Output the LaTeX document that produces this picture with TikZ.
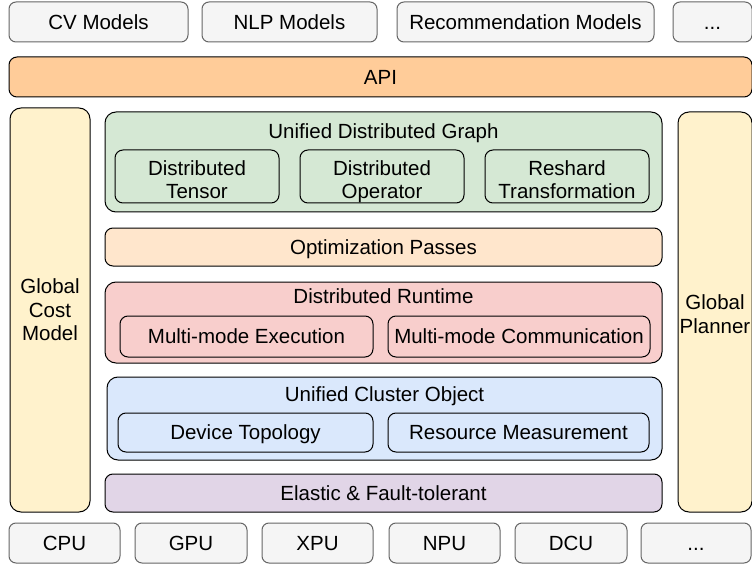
\documentclass[tikz,border=0pt]{standalone}
\usepackage{fontspec}
\setmainfont{Liberation Sans}
\definecolor{greyfill}{HTML}{F5F5F5}
\definecolor{greyline}{HTML}{666666}
\definecolor{apifill}{HTML}{FFCC99}
\definecolor{yelfill}{HTML}{FFF2CC}
\definecolor{grnfill}{HTML}{D5E8D4}
\definecolor{optfill}{HTML}{FFE6CC}
\definecolor{redfill}{HTML}{F8CECC}
\definecolor{blufill}{HTML}{DAE8FC}
\definecolor{purfill}{HTML}{E1D5E7}
\tikzset{
  base/.style={draw=black, line width=1pt, inner sep=0pt, outer sep=0pt, align=center,
    font=\fontsize{20.5}{23.5}\selectfont, text=black},
  one/.style={text height=14.7pt, text depth=0pt},
  greybox/.style={base, one, draw=greyline, fill=greyfill, rounded corners=7pt},
  bigbox/.style={base, rounded corners=11pt},
  smallbox/.style={base, rounded corners=8pt},
  lbl/.style={font=\fontsize{20.5}{23.5}\selectfont, inner sep=0pt, text=black, one},
  mlbl/.style={font=\fontsize{20.5}{23.5}\selectfont, inner sep=0pt, text=black, align=center},
}
\begin{document}
\begin{tikzpicture}[x=1pt, y=-1pt]
\useasboundingbox (0,0) rectangle (752,564);
% top row
\node[greybox, minimum width=179pt, minimum height=40pt] (cv) at (98.5,22) {CV Models};
\node[greybox, minimum width=175pt, minimum height=40pt] (nlp) at (289.5,22) {NLP Models};
\node[greybox, minimum width=257pt, minimum height=40pt] (rec) at (525.5,22) {Recommendation Models};
\node[greybox, minimum width=79pt, minimum height=40pt] (dots1) at (712.5,22) {...};
% API
\node[smallbox, one, fill=apifill, minimum width=743pt, minimum height=40pt] (api) at (380.5,77) {API};
% side columns
\node[bigbox, fill=yelfill, minimum width=80pt, minimum height=404pt] (gcm) at (50,310) {Global\\Cost\\Model};
\node[bigbox, fill=yelfill, minimum width=74pt, minimum height=400pt] (gp) at (715,312) {};
\node[mlbl] (gpt) at ([yshift=-2pt]gp.center) {Global\\Planner};
% unified distributed graph
\node[bigbox, fill=grnfill, minimum width=557pt, minimum height=100pt] (udg) at (383.5,162) {};
\node[lbl] (udgl) at (383.5,131) {Unified Distributed Graph};
\node[smallbox, fill=grnfill, minimum width=164pt, minimum height=53pt] (dt) at (197,176.5) {};
\node[mlbl] (dtt) at ([yshift=-3pt]dt.center) {Distributed\\Tensor};
\node[smallbox, fill=grnfill, minimum width=164pt, minimum height=53pt] (do) at (382,176.5) {};
\node[mlbl] (dot) at ([yshift=-3pt]do.center) {Distributed\\O\smash{p}erator};
\node[smallbox, fill=grnfill, minimum width=164pt, minimum height=53pt] (rt) at (567,176.5) {};
\node[mlbl] (rtt) at ([yshift=-3pt]rt.center) {Reshard\\Transformation};
% optimization passes
\node[smallbox, one, fill=optfill, minimum width=557pt, minimum height=38pt] (opt) at (383.5,247) {Optimization Passes};
% distributed runtime
\node[bigbox, fill=redfill, minimum width=557pt, minimum height=81pt] (drt) at (383.5,322.5) {};
\node[lbl] (drtl) at (383.5,296) {Distributed Runtime};
\node[smallbox, one, fill=redfill, minimum width=253pt, minimum height=41pt] (me) at (246.5,336.5) {Multi-mode Execution};
\node[smallbox, one, fill=redfill, minimum width=262pt, minimum height=41pt] (mc) at (519,336.5) {Multi-mode Communication};
% unified cluster object
\node[bigbox, fill=blufill, minimum width=555pt, minimum height=83pt] (uco) at (384.5,418.5) {};
\node[lbl] (ucol) at (384.5,394) {Unified Cluster Object};
\node[smallbox, one, fill=blufill, minimum width=255pt, minimum height=39pt] (dtop) at (245.5,432.5) {Device Topology};
\node[smallbox, one, fill=blufill, minimum width=261pt, minimum height=39pt] (rm) at (518.5,432.5) {Resource Measurement};
% elastic
\node[smallbox, one, fill=purfill, minimum width=557pt, minimum height=38pt] (ela) at (383.5,493) {Elastic \& Fault-tolerant};
% bottom row
\node[greybox, minimum width=111pt, minimum height=40pt] (cpu) at (64.5,543) {CPU};
\node[greybox, minimum width=112pt, minimum height=40pt] (gpu) at (191,543) {GPU};
\node[greybox, minimum width=111pt, minimum height=40pt] (xpu) at (317.5,543) {XPU};
\node[greybox, minimum width=111pt, minimum height=40pt] (npu) at (444.5,543) {NPU};
\node[greybox, minimum width=112pt, minimum height=40pt] (dcu) at (571,543) {DCU};
\node[greybox, minimum width=110pt, minimum height=40pt] (dots2) at (696,543) {...};
\end{tikzpicture}
\end{document}
